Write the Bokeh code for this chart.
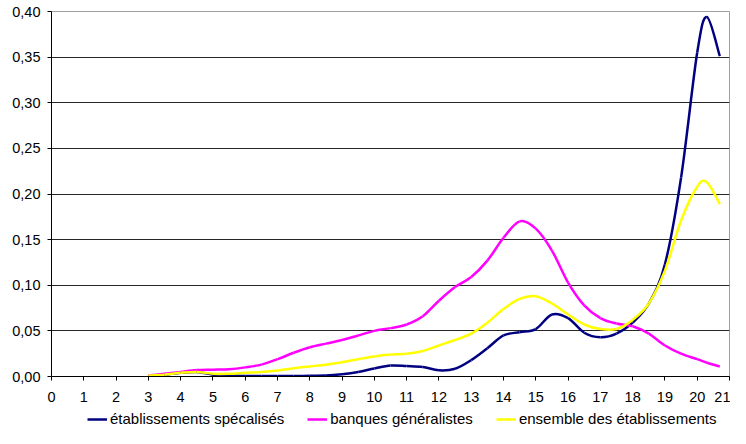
from bokeh.plotting import figure
from bokeh.layouts import column
from bokeh.models import (Range1d, FixedTicker, CustomJSTickFormatter, Legend,
                          LegendItem, ColumnDataSource)
from bokeh.embed import file_html
from bokeh.resources import INLINE

# ---- data ----
x_values = [3.0, 3.5, 4.0, 4.5, 5.0, 5.5, 6.0, 6.5, 7.0, 7.5, 8.0, 8.5, 9.0, 9.5,
            10.0, 10.5, 11.0, 11.5, 12.0, 12.5, 13.0, 13.5, 14.0, 14.5, 15.0, 15.5,
            16.0, 16.5, 17.0, 17.5, 18.0, 18.5, 19.0, 19.5, 20.0, 20.3, 20.7]

specialises = [0.000, 0.002, 0.004, 0.005, 0.002, 0.001, 0.0005, 0.0005, 0.0005, 0.0005,
               0.0008, 0.001, 0.0025, 0.005, 0.0088, 0.012, 0.0115, 0.0105, 0.0068, 0.0085,
               0.018, 0.031, 0.045, 0.0486, 0.052, 0.068, 0.064, 0.048, 0.043, 0.047,
               0.059, 0.080, 0.123, 0.218, 0.355, 0.394, 0.351]

generalistes = [0.001, 0.003, 0.005, 0.007, 0.0075, 0.008, 0.010, 0.013, 0.019, 0.026,
                0.032, 0.036, 0.040, 0.045, 0.050, 0.053, 0.057, 0.066, 0.083, 0.098,
                0.109, 0.127, 0.152, 0.170, 0.162, 0.138, 0.103, 0.078, 0.064, 0.058,
                0.055, 0.047, 0.034, 0.025, 0.019, 0.015, 0.011]

ensemble = [0.001, 0.002, 0.004, 0.005, 0.003, 0.003, 0.004, 0.005, 0.0066, 0.009,
            0.011, 0.013, 0.0157, 0.019, 0.022, 0.024, 0.025, 0.028, 0.034, 0.040,
            0.047, 0.059, 0.074, 0.085, 0.088, 0.080, 0.068, 0.057, 0.052, 0.052,
            0.062, 0.080, 0.116, 0.171, 0.208, 0.213, 0.189]

series_labels = ["établissements spécalisés", "banques généralistes",
                 "ensemble des établissements"]
series_colors = ["#000080", "#FF00FF", "#FFFF00"]

x_ticks = list(range(0, 22))
y_ticks = [0.0, 0.05, 0.10, 0.15, 0.20, 0.25, 0.30, 0.35, 0.40]

FONT = "Liberation Sans"


def smooth_segments(xs, ys):
    """Catmull-Rom style cubic Bezier segments through the data points."""
    n = len(xs)
    seg = dict(x0=[], y0=[], x1=[], y1=[], cx0=[], cy0=[], cx1=[], cy1=[])
    for i in range(n - 1):
        xp, yp = (xs[i - 1], ys[i - 1]) if i > 0 else (xs[i], ys[i])
        xn, yn = (xs[i + 2], ys[i + 2]) if i + 2 < n else (xs[i + 1], ys[i + 1])
        seg["x0"].append(xs[i]); seg["y0"].append(ys[i])
        seg["x1"].append(xs[i + 1]); seg["y1"].append(ys[i + 1])
        seg["cx0"].append(xs[i] + (xs[i + 1] - xp) / 6.0)
        seg["cy0"].append(ys[i] + (ys[i + 1] - yp) / 6.0)
        seg["cx1"].append(xs[i + 1] - (xn - xs[i]) / 6.0)
        seg["cy1"].append(ys[i + 1] - (yn - ys[i]) / 6.0)
    return ColumnDataSource(seg)


p = figure(width=730, height=410, output_backend="svg", toolbar_location=None,
           x_range=Range1d(0, 21), y_range=Range1d(0, 0.40),
           min_border_left=51, min_border_right=1, min_border_top=11,
           min_border_bottom=34)

p.background_fill_color = "white"
p.border_fill_color = "white"
p.outline_line_color = "#a0a0a0"
p.outline_line_width = 1

# axes
p.xaxis.ticker = FixedTicker(ticks=x_ticks)
p.yaxis.ticker = FixedTicker(ticks=y_ticks)
p.yaxis.formatter = CustomJSTickFormatter(code="return tick.toFixed(2).replace('.', ',');")
for ax in (p.xaxis[0], p.yaxis[0]):
    ax.axis_line_color = "black"
    ax.axis_line_width = 1
    ax.major_tick_line_color = "black"
    ax.major_tick_in = 0
    ax.major_tick_out = 4
    ax.minor_tick_line_color = None
    ax.major_label_text_font = FONT
    ax.major_label_text_font_size = "14.5px"
    ax.major_label_text_color = "black"
p.xaxis.major_label_standoff = 11
p.yaxis.major_label_standoff = 7

p.xgrid.visible = False
p.ygrid.ticker = FixedTicker(ticks=y_ticks)
p.ygrid.grid_line_color = "black"
p.ygrid.grid_line_alpha = 0.85
p.ygrid.grid_line_width = 1

# legend lives in its own strip below the chart (its frame is aligned with the chart's)
lf = figure(width=730, height=18, output_backend="svg", toolbar_location=None,
            x_range=Range1d(0, 1), y_range=Range1d(0, 1),
            x_axis_location=None, y_axis_location=None, min_border=0)
lf.grid.visible = False
lf.outline_line_color = None
lf.background_fill_color = "white"
lf.border_fill_color = "white"

items = []
for ys, label, color in zip([specialises, generalistes, ensemble], series_labels, series_colors):
    src = smooth_segments(x_values, ys)
    p.bezier(x0="x0", y0="y0", x1="x1", y1="y1", cx0="cx0", cy0="cy0",
             cx1="cx1", cy1="cy1", source=src, line_color=color, line_width=2.5)
    # legend proxy: same series, lying outside the strip's visible range
    proxy = lf.line(x=x_values, y=ys, line_color=color, line_width=2.5)
    items.append(LegendItem(label=label, renderers=[proxy]))

legend = Legend(items=items, orientation="horizontal", location=(36, 1),
                border_line_color=None, background_fill_alpha=0,
                label_text_font=FONT, label_text_font_size="15px",
                label_text_color="black", glyph_width=20, glyph_height=16,
                label_height=16, label_standoff=3, spacing=23, padding=0,
                margin=0)
lf.add_layout(legend, "center")

layout = column(p, lf, spacing=0)
open("out.html", "w").write(file_html(layout, INLINE))
